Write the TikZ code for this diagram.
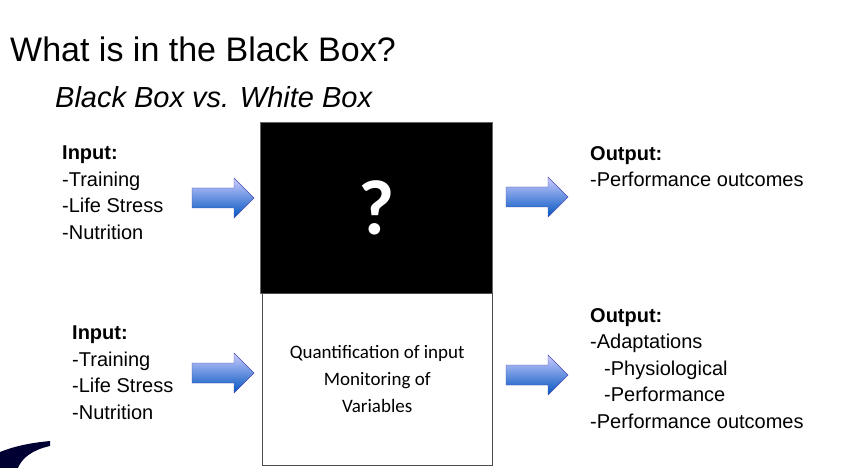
\documentclass[tikz,border=0pt]{standalone}
\usepackage{fontspec}
\setmainfont{Liberation Sans}
\newfontfamily\calib{Carlito}
\begin{document}
\begin{tikzpicture}[x=1pt,y=-1pt,
  lbl/.style={anchor=north west,align=left,inner sep=0pt,font=\fontsize{20}{26.5}\selectfont},
  barrow/.style={draw=blue!40!gray,line width=0.4pt,top color=blue!20!white,bottom color=blue!55!cyan!75!black}]
\newcommand\mkarrow[3]{\coordinate (#1) at (#2,#3);
  \path[barrow] ([shift={(-31,-10)}]#1) -- ([shift={(11,-10)}]#1) -- ([shift={(11,-20)}]#1) -- ([shift={(31,0)}]#1)
   -- ([shift={(11,20)}]#1) -- ([shift={(11,10)}]#1) -- ([shift={(-31,10)}]#1) -- cycle;}
\useasboundingbox (0,0) rectangle (847,468);
\fill[white] (0,0) rectangle (847,468);
\fill[black!80!blue] (0,452) .. controls (15,446) and (30,443) .. (50,441) -- (50,446) .. controls (32,450) and (22,458) .. (18,468) -- (0,468) -- cycle;
\node[anchor=base west,inner sep=0pt,font=\fontsize{34}{38}\selectfont] (title) at (10,62) {What is in the Black Box?};
\node[anchor=base west,inner sep=0pt,font=\fontsize{29}{32}\selectfont\itshape] (sub) at (55,108) {Black Box vs. White Box};
\node[draw=black!60,fill=black,minimum width=232pt,minimum height=171pt,anchor=north west,inner sep=0pt] (bb) at (260,122) {};
\node[text=white,font=\calib\fontsize{78}{78}\selectfont\bfseries] (q) at (bb.center) {?};
\node[draw=black!70,fill=white,minimum width=230pt,minimum height=172pt,anchor=north west,inner sep=0pt,align=center,
  font=\calib\fontsize{19}{27}\selectfont] (wb) at (262,293) {Quantification of input\\Monitoring of\\Variables};
\node[lbl] (in1) at (62,146) {\textbf{Input:}\\-Training\\-Life Stress\\-Nutrition};
\node[lbl] (in2) at (72,326) {\textbf{Input:}\\-Training\\-Life Stress\\-Nutrition};
\node[lbl] (out1) at (590,146) {\textbf{Output:}\\-Performance outcomes};
\node[lbl] (out2) at (590,308) {\textbf{Output:}\\-Adaptations\\\hspace*{14pt}-Physiological\\\hspace*{14pt}-Performance\\-Performance outcomes};
\mkarrow{a1}{223}{198}
\mkarrow{a2}{223}{373}
\mkarrow{a3}{537}{197}
\mkarrow{a4}{537}{375}
\end{tikzpicture}
\end{document}
